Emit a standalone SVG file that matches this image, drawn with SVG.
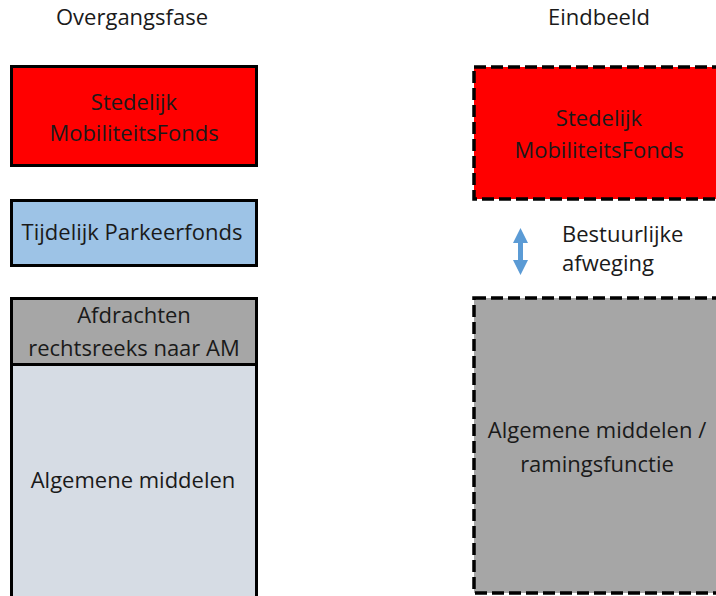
<svg xmlns="http://www.w3.org/2000/svg" width="716" height="596" viewBox="0 0 716 596">
<style>
text{font-family:"Open Sans","Liberation Sans",sans-serif;font-size:22px;fill:#1a1a1a;text-anchor:middle}
.solid{stroke:#000;stroke-width:3}
.dash{stroke:#000;stroke-width:3.5;stroke-dasharray:12 5}
</style>
<rect width="716" height="596" fill="#fff"/>
<text x="132" y="25">Overgangsfase</text>
<text x="599" y="25">Eindbeeld</text>
<g id="smf-left">
<rect class="solid" x="11.5" y="66.5" width="245" height="99" fill="#ff0000"/>
<text x="134" y="110">Stedelijk</text>
<text x="134" y="141">MobiliteitsFonds</text>
</g>
<g id="tpf">
<rect class="solid" x="11.5" y="200.5" width="245" height="65" fill="#9dc3e6"/>
<text x="132" y="240">Tijdelijk Parkeerfonds</text>
</g>
<g id="afdrachten">
<rect class="solid" x="11.5" y="298.5" width="245" height="66" fill="#a6a6a6"/>
<text x="134" y="323">Afdrachten</text>
<text x="134" y="356">rechtsreeks naar AM</text>
</g>
<g id="am-left">
<rect class="solid" x="11.5" y="364.5" width="245" height="240" fill="#d6dce4"/>
<text x="133" y="488">Algemene middelen</text>
</g>
<g id="smf-right">
<rect class="dash" x="474" y="67" width="250" height="132" fill="#ff0000"/>
<text x="599" y="126">Stedelijk</text>
<text x="599" y="158">MobiliteitsFonds</text>
</g>
<g id="am-right">
<rect class="dash" x="474" y="298" width="250" height="295" fill="#a6a6a6"/>
<text x="597" y="438">Algemene middelen /</text>
<text x="597" y="472">ramingsfunctie</text>
</g>
<g id="connectors">
<path d="M520.5 228 L528 243 L523 243 L523 260 L528 260 L520.5 275 L513 260 L518 260 L518 243 L513 243 Z" fill="#5b9bd5"/>
</g>
<g id="label-bestuurlijk">
<text x="562" y="242" style="text-anchor:start">Bestuurlijke</text>
<text x="562" y="271" style="text-anchor:start">afweging</text>
</g>
</svg>
